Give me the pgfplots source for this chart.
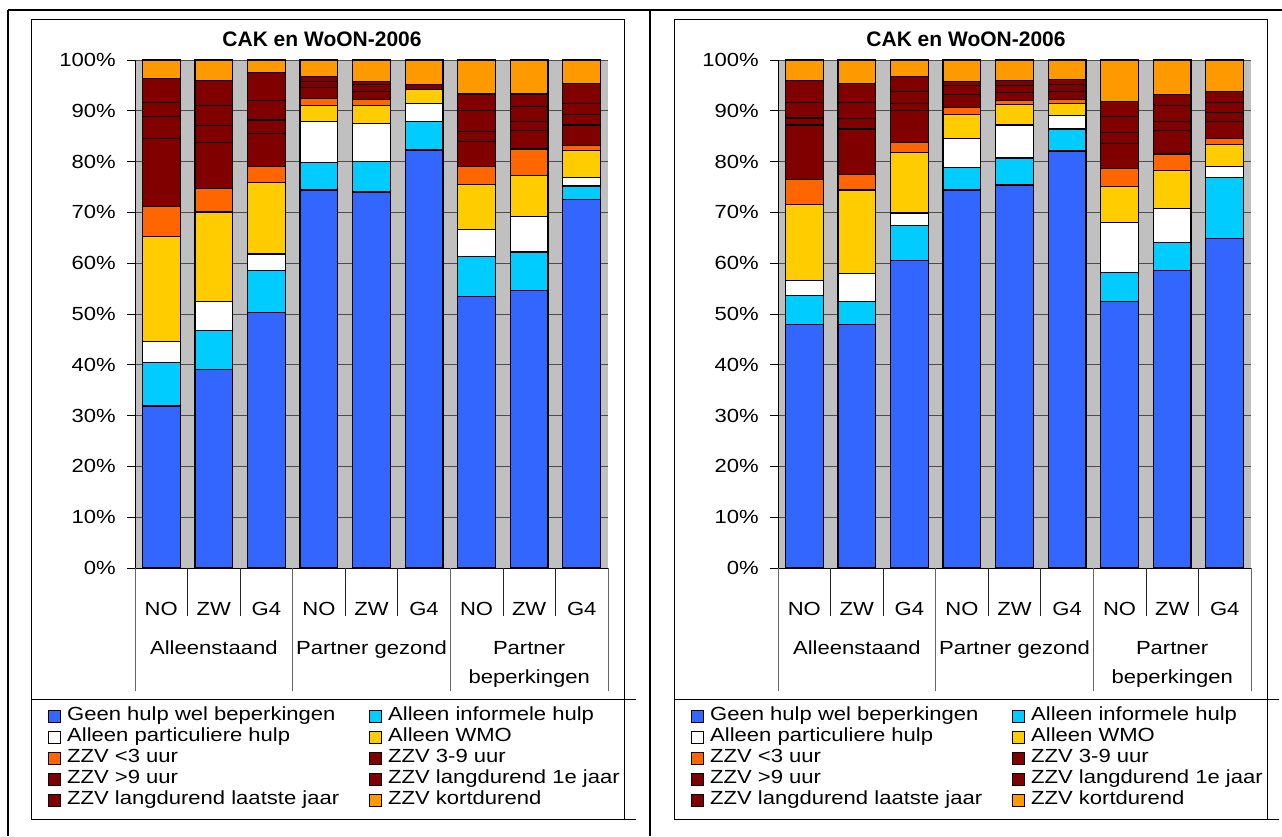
\documentclass[border=0pt]{standalone}
\usepackage{pgfplots}
\pgfplotsset{compat=1.18}
\usepackage{pgfplotstable}
\usepackage{fontspec}
\setmainfont{Liberation Sans}[FakeStretch=1.16]
\newfontfamily\titlefont{Liberation Sans}

\definecolor{cBlue}{HTML}{3366FF}
\definecolor{cCyan}{HTML}{00CCFF}
\definecolor{cYel}{HTML}{FFCC00}
\definecolor{cOrg}{HTML}{FF6600}
\definecolor{cDark}{HTML}{800000}
\definecolor{cKort}{HTML}{FF9900}
\definecolor{cBg}{HTML}{C0C0C0}

% columns: g=Geen hulp, inf=informele, par=particuliere, wmo=WMO, z3=<3, z39=3-9, z9=>9, l1=langdurend 1e, ll=langdurend laatste, k=kortdurend
\pgfplotstableread{
x g inf par wmo z3 z39 z9 l1 ll k
0 31.9 8.5 4.2 20.7 5.9 13.4 4.3 2.8 4.6 3.7
1 39.0 7.8 5.6 17.7 4.6 9.1 3.3 3.9 5.0 4.0
2 50.3 8.3 3.2 14.1 3.1 6.5 2.7 3.8 5.5 2.5
3 74.4 5.4 8.1 3.2 1.3 2.2 1.1 1.0 0.0 3.3
4 74.0 6.1 7.4 3.6 1.2 1.5 1.4 0.5 0.0 4.3
5 82.3 5.6 3.5 2.8 0.0 1.0 0.0 0.0 0.0 4.8
6 53.5 7.8 5.4 8.8 3.5 4.9 2.1 4.0 3.3 6.7
7 54.7 7.5 7.0 8.1 5.2 3.6 1.8 2.9 2.5 6.7
8 72.6 2.6 1.7 5.3 1.0 4.0 2.1 2.1 3.9 4.7
}\leftdata

\pgfplotstableread{
x g inf par wmo z3 z39 z9 l1 ll k
0 47.9 5.7 3.0 15.0 4.9 10.7 1.4 3.1 4.2 4.1
1 47.9 4.6 5.4 16.5 3.1 8.9 2.1 3.2 3.7 4.6
2 60.6 6.8 2.5 11.9 2.0 6.2 1.4 2.4 2.9 3.3
3 74.4 4.5 5.7 4.7 1.3 2.6 1.8 0.7 0.0 4.3
4 75.4 5.3 6.5 4.0 0.8 1.6 1.4 0.9 0.0 4.1
5 82.1 4.3 2.7 2.3 0.9 1.5 1.4 0.9 0.0 3.9
6 52.5 5.7 9.8 7.1 3.5 5.0 2.1 3.2 2.9 8.2
7 58.5 5.6 6.7 7.4 3.3 4.6 1.8 3.2 2.1 6.8
8 64.8 12.1 2.1 4.3 1.3 3.3 1.8 2.0 2.1 6.2
}\rightdata

\newcommand{\mainsize}{\fontsize{19}{21}\selectfont}

\pgfplotsset{
  mybar/.style={fill=#1, draw=black, line width=1.2pt,
    legend image code/.code={\draw[fill=#1, draw=black, line width=0.8pt] (0pt,-6pt) rectangle (12pt,6pt); \path (17pt,0pt);}},
  panel/.style={
    scale only axis, width=473pt, height=508pt,
    anchor=south west,
    ybar stacked, bar width=0.72,
    xmin=-0.5, xmax=8.5, ymin=0, ymax=100,
    clip=false,
    axis background/.style={fill=cBg},
    axis x line*=bottom, axis y line*=left,
    axis line style={black, line width=0.9pt},
    ytick={0,10,...,100},
    yticklabel={\pgfmathprintnumber{\tick}\%},
    /pgf/number format/assume math mode=true,
    ymajorgrids, major grid style={black!70, line width=0.9pt},
    tick align=outside,
    major tick length=8pt,
    y tick style={black, line width=0.8pt},
    x tick style={draw=none},
    xtick={0,...,8},
    xticklabels={NO,ZW,G4,NO,ZW,G4,NO,ZW,G4},
    ticklabel style={font=\mainsize},
    yticklabel style={anchor=east, inner sep=0pt, xshift=-11pt},
    xticklabel style={anchor=base, inner sep=0pt, yshift=-39pt},
    legend columns=2,
    legend cell align=left,
    legend style={draw=none, fill=none, font=\mainsize,
      at={(axis description cs:-0.1839,-0.2707)}, anchor=north west,
      inner sep=0pt, row sep=0pt,
      nodes={text height=14pt, text depth=5pt, inner sep=1pt},
      /tikz/every even column/.append style={column sep=29pt}},
  }
}

\newcommand{\panelplots}[1]{%
  \addplot[mybar=cBlue] table[x=x,y=g]{#1};
  \addplot[mybar=cCyan] table[x=x,y=inf]{#1};
  \addplot[mybar=white] table[x=x,y=par]{#1};
  \addplot[mybar=cYel] table[x=x,y=wmo]{#1};
  \addplot[mybar=cOrg] table[x=x,y=z3]{#1};
  \addplot[mybar=cDark] table[x=x,y=z39]{#1};
  \addplot[mybar=cDark] table[x=x,y=z9]{#1};
  \addplot[mybar=cDark] table[x=x,y=l1]{#1};
  \addplot[mybar=cDark] table[x=x,y=ll]{#1};
  \addplot[mybar=cKort] table[x=x,y=k]{#1};
  \legend{Geen hulp wel beperkingen, Alleen informele hulp, Alleen particuliere hulp, Alleen WMO, ZZV <3 uur, ZZV 3-9 uur, ZZV >9 uur, ZZV langdurend 1e jaar, ZZV langdurend laatste jaar, ZZV kortdurend}
  \draw[black!85, line width=0.7pt] (axis cs:0.5,0) -- ++(0pt,-48pt);
  \draw[black!85, line width=0.7pt] (axis cs:1.5,0) -- ++(0pt,-48pt);
  \draw[black!85, line width=0.7pt] (axis cs:3.5,0) -- ++(0pt,-48pt);
  \draw[black!85, line width=0.7pt] (axis cs:4.5,0) -- ++(0pt,-48pt);
  \draw[black!85, line width=0.7pt] (axis cs:6.5,0) -- ++(0pt,-48pt);
  \draw[black!85, line width=0.7pt] (axis cs:7.5,0) -- ++(0pt,-48pt);
  \draw[black!60, line width=0.8pt] (axis cs:-0.5,0) -- ++(0pt,-123pt);
  \draw[black!60, line width=0.8pt] (axis cs:2.5,0) -- ++(0pt,-123pt);
  \draw[black!60, line width=0.8pt] (axis cs:5.5,0) -- ++(0pt,-123pt);
  \draw[black!60, line width=0.8pt] (axis cs:8.5,0) -- ++(0pt,-123pt);
  \node[anchor=base, font=\mainsize, inner sep=0pt, yshift=-86pt] at (axis cs:1,0) {Alleenstaand};
  \node[anchor=base, font=\mainsize, inner sep=0pt, yshift=-86pt] at (axis cs:4,0) {Partner gezond};
  \node[anchor=base, font=\mainsize, inner sep=0pt, yshift=-86pt] at (axis cs:7,0) {Partner};
  \node[anchor=base, font=\mainsize, inner sep=0pt, yshift=-115pt] at (axis cs:7,0) {beperkingen};
}

\begin{document}
\begin{tikzpicture}[x=1pt,y=1pt]
\path[use as bounding box] (0,0) rectangle (1282,-836);
% outer table frame
\draw[black, line width=2pt] (8,-10) -- (1282,-10);
\draw[black, line width=2pt] (8,-10) -- (8,-836);
\draw[black, line width=2pt] (650,-10) -- (650,-836);
% chart area boxes
\draw[black, line width=0.9pt] (31,-19) rectangle (624,-819);
\draw[black, line width=0.9pt] (31,-699) -- (636,-699);
\draw[black, line width=0.9pt] (624,-819) -- (636,-819);
\draw[black, line width=0.9pt] (674,-19) rectangle (1267,-819);
\draw[black, line width=0.9pt] (674,-699) -- (1279,-699);
\draw[black, line width=0.9pt] (1267,-819) -- (1279,-819);
% titles
\node[anchor=base, font=\titlefont\bfseries\fontsize{21}{24}\selectfont, inner sep=0pt] at (322,-46) {CAK en WoON-2006};
\node[anchor=base, font=\titlefont\bfseries\fontsize{21}{24}\selectfont, inner sep=0pt] at (966,-46) {CAK en WoON-2006};

\begin{axis}[panel, at={(135pt,-568pt)}]
\panelplots{\leftdata}
\end{axis}

\begin{axis}[panel, at={(778pt,-568pt)}]
\panelplots{\rightdata}
\end{axis}
\end{tikzpicture}
\end{document}
